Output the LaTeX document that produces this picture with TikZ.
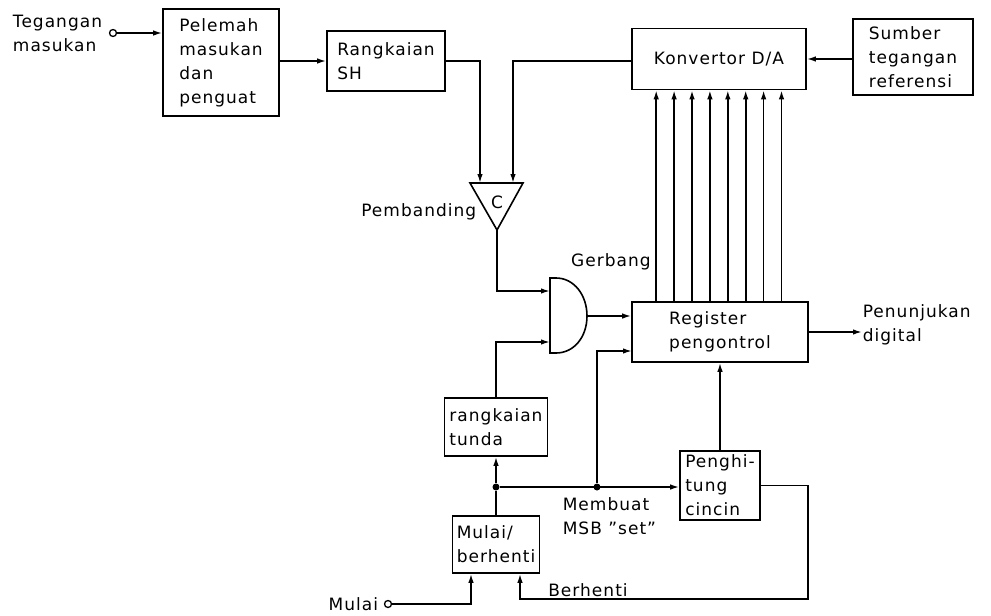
\documentclass[tikz,border=0pt]{standalone}
\usepackage{fontspec}
\setmainfont[LetterSpace=6]{DejaVu Sans}
\usepackage{tikz}
\usetikzlibrary{arrows.meta,positioning,calc}

\begin{document}
\begin{tikzpicture}[
  x=1pt, y=-1pt, font=\fontsize{17}{24}\selectfont, line width=1.6pt,
  b/.style={draw, align=left, inner sep=2pt},
  t/.style={align=left, inner sep=0pt},
  pf/.style={-{Latex[length=9pt,width=5.5pt]}},
  term/.style={draw, circle, inner sep=0pt, minimum size=7pt, line width=1.3pt},
  dot/.style={fill, circle, inner sep=0pt, minimum size=7pt}
]
\useasboundingbox (0,0) rectangle (991,616);
\node[b, minimum width=116pt, minimum height=107pt] (pel) at (221,62.5) {Pelemah\\masukan\\dan\\penguat};
\node[b, minimum width=118pt, minimum height=60pt] (sh) at (386,61) {Rangkaian\\SH};
\node[b, minimum width=174pt, minimum height=61pt] (da) at (719,59) {Konvertor D/A};
\node[b, minimum width=120pt, minimum height=76pt] (ref) at (913,57) {Sumber\\tegangan\\referensi};
\node[b, minimum width=176pt, minimum height=60pt] (reg) at (720,332) {Register\\pengontrol};
\node[b, minimum width=103pt, minimum height=58pt] (tunda) at (496,427) {rangkaian\\tunda};
\node[b, minimum width=87pt, minimum height=57pt] (mulai) at (496,544.5) {Mulai/\\berhenti};
\node[b, minimum width=80pt, minimum height=69pt] (ring) at (720,485.5) {Penghi-\\tung\\cincin};

\node[term] (vin) at (113,33) {};
\node[t, left=6pt of vin] (vinl) {Tegangan\\masukan};
\node[term] (vst) at (388,604) {};
\node[t, left=5pt of vst] (vstl) {Mulai};

% pembanding
\coordinate (cin1) at (480,183);
\coordinate (cin2) at (513,183);
\coordinate (capex) at (497,230);
\draw (470,183) -- (523,183) -- (capex) -- cycle;
\node (cmp) at (497,202) {C};
\node[t, anchor=east] (cmpl) at (477,212) {Pembanding};

% gerbang
\coordinate (gin1) at (550,291);
\coordinate (gin2) at (550,342);
\coordinate (gout) at (587,316);
\draw (550,278) -- (556,278) .. controls (574,278) and (587,295) .. (gout)
  .. controls (587,337) and (574,353) .. (556,353) -- (550,353) -- cycle;
\node[t] (gl) at (611,262) {Gerbang};

\node[dot] (j1) at (496,487) {};
\node[dot] (j2) at (597,487) {};
\coordinate (rin2) at (632,351);
\coordinate (bk) at (808,599);
\node[t, anchor=west] (outl) at (862,325) {Penunjukan\\digital};
\node[t, anchor=west] (msb) at (562,516) {Membuat\\MSB ''set''};
\node[t] (stopl) at (588,590) {Berhenti};

\draw[pf] (vin) -- (vin -| pel.west);
\draw[pf] (pel.east |- sh.west) -- (sh.west);
\draw[pf] (sh.east) -| (cin1);
\draw[pf] (da.west |- 0,61) -| (cin2);
\draw[pf] (ref.west |- da.east) -- (da.east);
\foreach \i in {0,...,7}
  \draw[pf] ([xshift=25pt+\i*17.9pt]reg.north west) -- ([xshift=25pt+\i*17.9pt]reg.north west |- da.south);
\draw[pf] (capex) |- (gin1);
\draw[pf] (gout) -- (gout -| reg.west);
\draw[pf] (tunda.north) |- (gin2);
\draw (mulai.north) -- (j1);
\draw[pf] (j1) -- (tunda.south);
\draw[pf] (j1) -- (j1 -| ring.west);
\draw[pf] (j2) |- (rin2);
\draw[pf] (ring.north) -- (reg.south);
\draw[pf] (reg.east) -- (outl.west |- reg.east);
\draw[pf] (vst) -| ([xshift=-25pt]mulai.south);
\draw[pf] (ring.east) -| (bk) -| ([xshift=24pt]mulai.south);
\end{tikzpicture}
\end{document}
